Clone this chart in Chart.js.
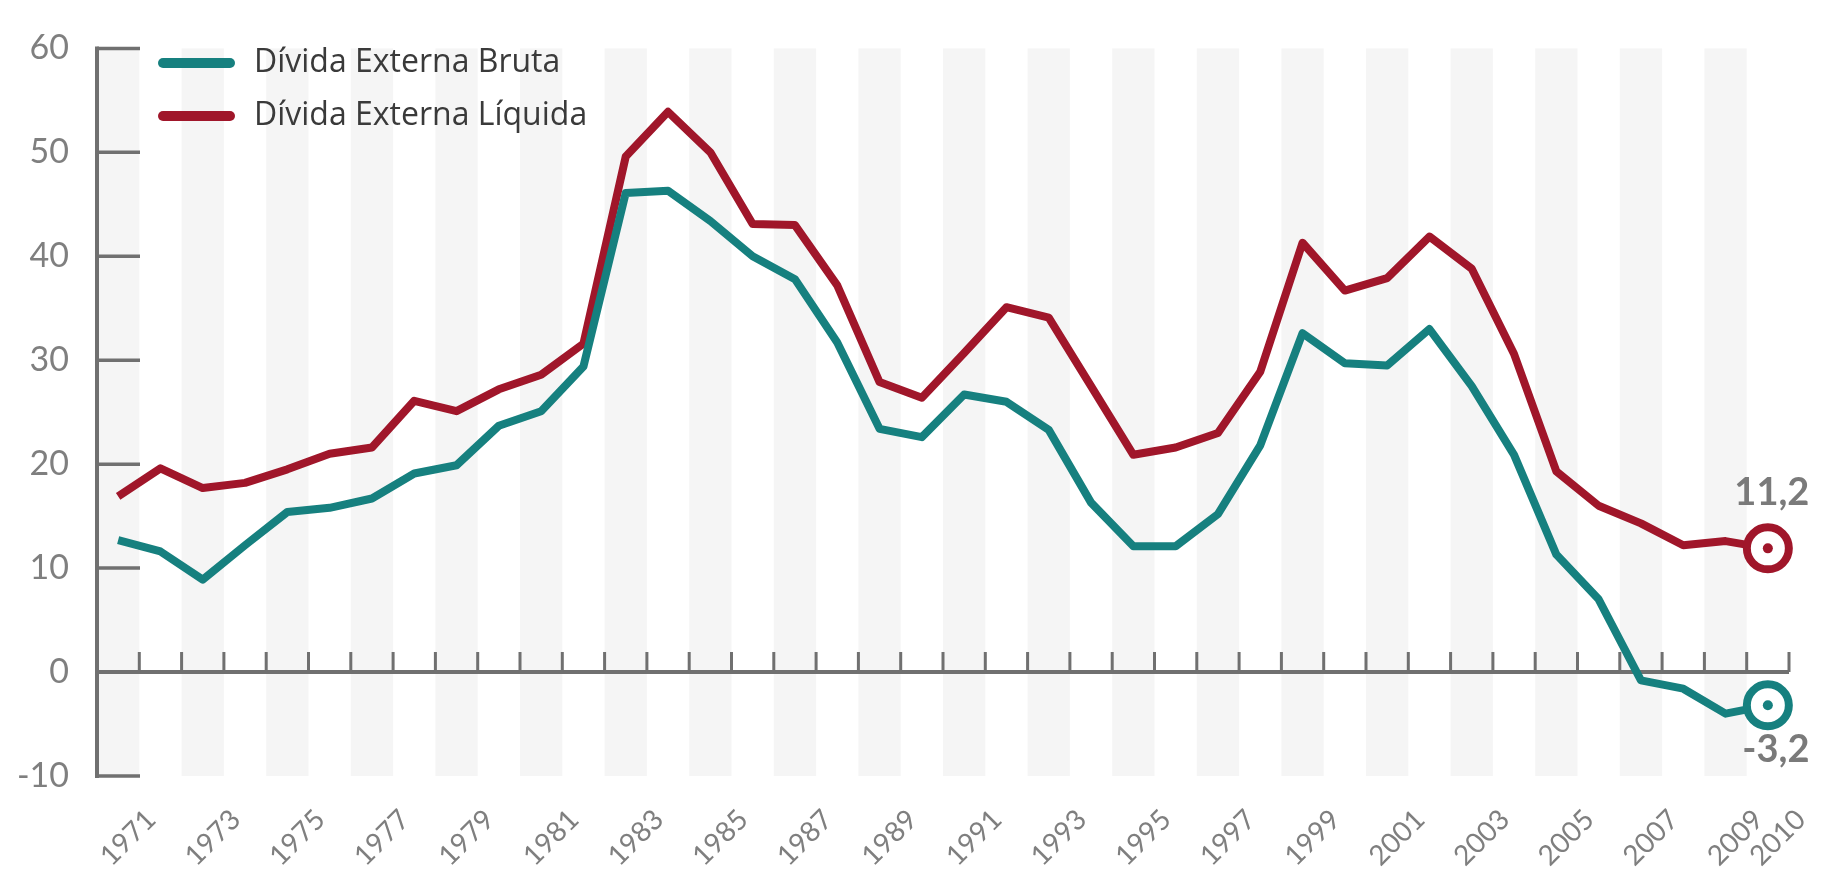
<!DOCTYPE html>
<html>
<head>
<meta charset="utf-8">
<script src="https://cdn.jsdelivr.net/npm/chart.js@4.4.1/dist/chart.umd.min.js"></script>
<style>
  html, body { margin: 0; padding: 0; background: #fff; }
  #wrap { width: 1821px; height: 872px; }
</style>
</head>
<body>
<div id="wrap"><canvas id="dividaChart" width="1821" height="872"></canvas></div>
<script>
const years = [1971, 1972, 1973, 1974, 1975, 1976, 1977, 1978, 1979, 1980,
               1981, 1982, 1983, 1984, 1985, 1986, 1987, 1988, 1989, 1990,
               1991, 1992, 1993, 1994, 1995, 1996, 1997, 1998, 1999, 2000,
               2001, 2002, 2003, 2004, 2005, 2006, 2007, 2008, 2009, 2010];

// Dívida Externa Bruta
const bruta = [12.7, 11.6, 8.9, 12.2, 15.4, 15.8, 16.7, 19.1, 19.9, 23.7,
               25.1, 29.4, 46.1, 46.3, 43.4, 40.0, 37.8, 31.7, 23.4, 22.6,
               26.7, 26.0, 23.3, 16.3, 12.1, 12.1, 15.2, 21.8, 32.6, 29.7,
               29.5, 33.0, 27.5, 20.9, 11.3, 7.0, -0.8, -1.6, -4.0, -3.2];

// Dívida Externa Líquida
const liquida = [16.9, 19.6, 17.7, 18.2, 19.5, 21.0, 21.6, 26.1, 25.1, 27.2,
                 28.6, 31.6, 49.6, 53.9, 50.0, 43.1, 43.0, 37.2, 27.9, 26.4,
                 30.7, 35.1, 34.1, 27.5, 20.9, 21.6, 23.0, 28.9, 41.3, 36.7,
                 37.9, 41.9, 38.8, 30.6, 19.3, 16.0, 14.3, 12.2, 12.6, 11.9];

const seriesNames = ['Dívida Externa Bruta', 'Dívida Externa Líquida'];
const endLabels = ['-3,2', '11,2'];
const yTicks = [-10, 0, 10, 20, 30, 40, 50, 60];

const TEAL = '#16807f';
const RED = '#a0162a';
const AXIS = '#707070';
const FONT = 'Lato';
const lastIdx = years.length - 1;

const extras = {
  id: 'extras',
  beforeDatasetsDraw(chart) {
    const { ctx, chartArea } = chart;
    const x = chart.scales.x, y = chart.scales.y;
    const half = (x.getPixelForValue(1) - x.getPixelForValue(0)) / 2;
    const top = y.getPixelForValue(60), bottom = y.getPixelForValue(-10);
    const y0 = y.getPixelForValue(0);
    const x0 = chartArea.left;

    ctx.save();
    // alternating stripes, odd years shaded
    ctx.fillStyle = '#f5f5f5';
    years.forEach((yr, i) => {
      if (yr % 2 === 1) {
        const cx = x.getPixelForValue(i);
        ctx.fillRect(cx - half, top, half * 2, bottom - top);
      }
    });

    // y axis line and ticks
    ctx.strokeStyle = AXIS;
    ctx.lineWidth = 4;
    ctx.beginPath();
    ctx.moveTo(x0, top - 2);
    ctx.lineTo(x0, bottom + 2);
    ctx.stroke();
    ctx.lineWidth = 3.5;
    ctx.beginPath();
    yTicks.forEach(v => {
      if (v === 0) return;
      const py = y.getPixelForValue(v);
      ctx.moveTo(x0, py);
      ctx.lineTo(x0 + 43, py);
    });
    ctx.stroke();

    // zero line with ticks between years
    ctx.lineWidth = 4;
    const xEnd = x.getPixelForValue(lastIdx) + half;
    ctx.beginPath();
    ctx.moveTo(x0, y0);
    ctx.lineTo(xEnd, y0);
    ctx.stroke();
    ctx.lineWidth = 3;
    ctx.beginPath();
    years.forEach((yr, i) => {
      const px = x.getPixelForValue(i) + half;
      ctx.moveTo(px, y0);
      ctx.lineTo(px, y0 - 20);
    });
    ctx.stroke();
    ctx.restore();
  },
  afterDatasetsDraw(chart) {
    const { ctx, chartArea } = chart;
    ctx.save();
    // inner dots + end labels
    chart.data.datasets.forEach((ds, i) => {
      const pt = chart.getDatasetMeta(i).data[lastIdx];
      ctx.fillStyle = ds.borderColor;
      ctx.beginPath();
      ctx.arc(pt.x, pt.y, 5, 0, Math.PI * 2);
      ctx.fill();
      ctx.fillStyle = '#7a7a7a';
      ctx.font = 'bold 38px ' + FONT;
      ctx.textAlign = 'center';
      ctx.textBaseline = 'middle';
      if (i === 0) ctx.fillText(endLabels[i], pt.x + 8, pt.y + 44);
      else ctx.fillText(endLabels[i], pt.x + 4, pt.y - 56);
    });

    // legend
    const lx = chartArea.left + 66;
    chart.data.datasets.forEach((ds, i) => {
      const ly = 63 + i * 53;
      ctx.strokeStyle = ds.borderColor;
      ctx.lineWidth = 10;
      ctx.lineCap = 'round';
      ctx.beginPath();
      ctx.moveTo(lx, ly);
      ctx.lineTo(lx + 67, ly);
      ctx.stroke();
      ctx.fillStyle = '#3a3a3a';
      ctx.font = '32px "Open Sans"';
      ctx.textAlign = 'left';
      ctx.textBaseline = 'middle';
      ctx.fillText(ds.label, lx + 91, ly);
    });
    ctx.restore();
  }
};

const endPoint = (ctx) => ctx.dataIndex === lastIdx ? 21 : 0;

new Chart(document.getElementById('dividaChart'), {
  type: 'line',
  data: {
    labels: years,
    datasets: [
      {
        label: seriesNames[0],
        data: bruta,
        borderColor: TEAL,
        backgroundColor: '#ffffff',
        borderWidth: 8,
        borderJoinStyle: 'round',
        pointRadius: endPoint,
        pointHoverRadius: endPoint,
        pointBorderWidth: 8,
        pointBackgroundColor: '#ffffff',
        pointBorderColor: TEAL,
        clip: false
      },
      {
        label: seriesNames[1],
        data: liquida,
        borderColor: RED,
        backgroundColor: '#ffffff',
        borderWidth: 8,
        borderJoinStyle: 'round',
        pointRadius: endPoint,
        pointHoverRadius: endPoint,
        pointBorderWidth: 8,
        pointBackgroundColor: '#ffffff',
        pointBorderColor: RED,
        clip: false
      }
    ]
  },
  options: {
    responsive: false,
    animation: false,
    layout: { padding: { left: 0, right: 32, top: 21, bottom: 0 } },
    plugins: { legend: { display: false }, tooltip: { enabled: false } },
    scales: {
      x: {
        type: 'category',
        offset: true,
        grid: { display: false, drawTicks: false },
        border: { display: false },
        ticks: {
          autoSkip: false,
          minRotation: 45,
          maxRotation: 45,
          padding: 27,
          labelOffset: 33,
          color: '#7f7f7f',
          font: { family: FONT, size: 28 },
          callback: function (val, i) {
            const yr = years[i];
            return (yr % 2 === 1 || yr === 2010) ? String(yr) : '';
          }
        },
        afterFit(scale) {
          scale.height = 96;
          scale.paddingLeft = 0;
          scale.paddingRight = 0;
        }
      },
      y: {
        min: -10,
        max: 60,
        grid: { display: false, drawTicks: false },
        border: { display: false },
        ticks: {
          stepSize: 10,
          padding: 28,
          color: '#7f7f7f',
          font: { family: FONT, size: 34 }
        },
        afterFit(scale) {
          scale.width = 97;
        }
      }
    }
  },
  plugins: [extras]
});
</script>
</body>
</html>
